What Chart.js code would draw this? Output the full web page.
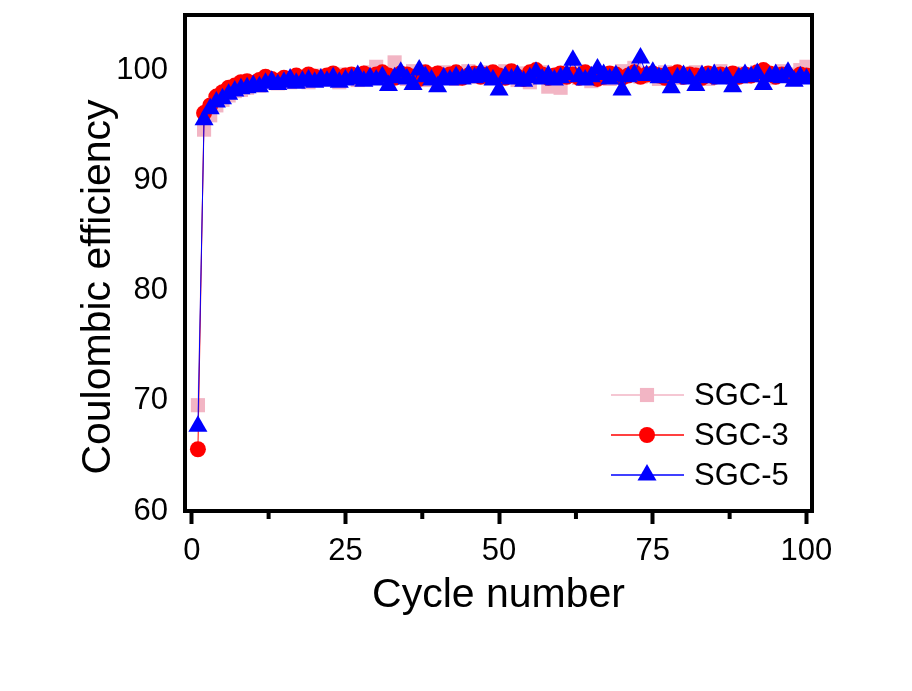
<!DOCTYPE html>
<html>
<head>
<meta charset="utf-8">
<title>Coulombic efficiency</title>
<script src="https://cdn.jsdelivr.net/npm/chart.js@4.4.1/dist/chart.umd.min.js"></script>
<style>
    html, body { margin: 0; padding: 0; background: #fff; }
    #graficoEficiencia { display: block; }
</style>
</head>
<body>
<canvas id="graficoEficiencia" width="912" height="691"></canvas>
<script>
// Numero de ciclo (1..100)
const ciclos = Array.from({ length: 100 }, (_, i) => i + 1);

// Eficiencia coulombica (%)
const sgc1 = [
    69.6, 94.6, 95.9, 96.8, 97.3, 97.7, 98.1, 98.2, 98.4, 98.7,
    98.6, 98.9, 99.0, 98.8, 99.1, 98.9, 99.2, 99.4, 98.9, 99.3,
    99.5, 99.2, 99.4, 98.9, 99.6, 99.3, 99.1, 99.5, 99.8, 100.3,
    99.4, 99.7, 100.7, 99.6, 99.2, 99.9, 99.4, 99.1, 99.6, 99.3,
    99.8, 99.5, 99.2, 99.7, 99.9, 99.4, 99.6, 99.8, 99.3, 99.5,
    99.9, 99.6, 99.1, 99.7, 98.9, 99.5, 99.8, 98.5, 99.4, 98.4,
    99.7, 99.8, 99.3, 99.6, 99.0, 99.5, 99.7, 99.2, 99.5, 99.9,
    99.6, 100.2, 99.4, 99.7, 99.5, 99.2, 99.8, 99.6, 99.3, 99.7,
    99.5, 99.8, 99.4, 99.2, 99.6, 99.9, 99.5, 99.3, 99.7, 99.4,
    99.6, 99.8, 99.5, 99.3, 99.7, 99.9, 99.6, 99.4, 100.0, 100.3
];
const sgc3 = [
    65.6, 96.1, 96.8, 97.6, 98.0, 98.4, 98.6, 98.9, 99.0, 98.8,
    99.1, 99.4, 99.2, 99.0, 99.3, 99.2, 99.5, 99.3, 99.6, 99.4,
    99.2, 99.5, 99.7, 99.3, 99.5, 99.6, 99.4, 99.7, 99.3, 99.6,
    99.8, 99.5, 99.3, 99.7, 99.6, 99.4, 99.2, 99.8, 99.5, 99.7,
    99.4, 99.6, 99.8, 99.3, 99.5, 99.7, 99.4, 99.6, 99.8, 99.5,
    99.3, 99.9, 99.4, 99.2, 99.8, 100.0, 99.6, 99.3, 99.5, 99.7,
    99.4, 99.6, 99.3, 99.8, 99.5, 99.2, 99.4, 99.7, 99.6, 99.3,
    99.5, 99.8, 99.4, 99.6, 99.7, 99.5, 99.3, 99.6, 99.8, 99.4,
    99.6, 99.5, 99.3, 99.7, 99.4, 99.6, 99.5, 99.7, 99.4, 99.6,
    99.5, 99.8, 100.0, 99.7, 99.4, 99.6, 99.5, 99.3, 99.6, 99.5
];
const sgc5 = [
    67.7, 95.5, 96.5, 97.1, 97.4, 97.8, 98.1, 98.3, 98.4, 98.6,
    98.5, 98.8, 99.0, 98.7, 98.9, 99.2, 98.8, 99.0, 99.1, 98.9,
    99.2, 99.0, 99.3, 98.9, 99.1, 99.2, 99.5, 99.0, 99.3, 99.1,
    99.4, 98.6, 99.3, 99.8, 99.2, 98.7, 100.0, 99.4, 99.1, 98.5,
    99.3, 99.1, 99.4, 99.2, 99.6, 99.3, 99.8, 99.4, 99.1, 98.2,
    99.4, 99.2, 99.5, 99.0, 99.3, 99.8, 99.2, 99.5, 99.1, 99.3,
    99.6, 100.9, 99.4, 99.1, 99.4, 100.1, 99.6, 99.2, 99.5, 98.2,
    99.4, 99.6, 101.1, 99.5, 99.8, 99.3, 99.6, 98.4, 99.3, 99.5,
    99.2, 98.6, 99.5, 99.3, 99.6, 99.2, 99.4, 98.5, 99.3, 99.6,
    99.4, 99.7, 98.7, 99.4, 99.6, 99.3, 99.8, 99.0, 99.4, 99.2
];

const nombres = ["SGC-1", "SGC-3", "SGC-5"];
const colores = ["#f2b5c4", "#ff0000", "#0000ff"];
const estilos = ["rect", "circle", "triangle"];
const radios = [10, 8, 11];

const xTicks = [0, 25, 50, 75, 100];
const xTicksMenores = [12.5, 37.5, 62.5, 87.5];
const yTicks = [60, 70, 80, 90, 100];

const fuente = "'Liberation Sans', Arial, sans-serif";

// marco, ticks menores, titulo Y y leyenda
const marcoPlugin = {
    id: "marco",
    afterDatasetsDraw(chart) {
        const { ctx, chartArea: a, scales } = chart;
        ctx.save();
        ctx.strokeStyle = "#000";
        ctx.lineWidth = 4;
        xTicksMenores.forEach(v => {
            const px = scales.x.getPixelForValue(v);
            ctx.beginPath();
            ctx.moveTo(px, a.bottom);
            ctx.lineTo(px, a.bottom + 8);
            ctx.stroke();
        });
        ctx.strokeRect(a.left, a.top, a.right - a.left, a.bottom - a.top);

        // titulo del eje Y
        ctx.save();
        ctx.translate(99, 287);
        ctx.rotate(-Math.PI / 2);
        ctx.fillStyle = "#000";
        ctx.font = "41px " + fuente;
        ctx.textAlign = "center";
        ctx.textBaseline = "middle";
        ctx.fillText("Coulombic efficiency", 0, 0);
        ctx.restore();

        // leyenda
        ctx.font = "31px " + fuente;
        ctx.textAlign = "left";
        ctx.textBaseline = "middle";
        nombres.forEach((nombre, i) => {
            const y = 395 + i * 40;
            ctx.strokeStyle = colores[i];
            ctx.lineWidth = 1.5;
            ctx.beginPath();
            ctx.moveTo(611, y);
            ctx.lineTo(684, y);
            ctx.stroke();
            ctx.fillStyle = colores[i];
            const r = radios[i];
            ctx.beginPath();
            if (estilos[i] === "rect") {
                const s = r * Math.SQRT1_2;
                ctx.rect(647 - s, y - s, 2 * s, 2 * s);
            } else if (estilos[i] === "circle") {
                ctx.arc(647, y, r, 0, Math.PI * 2);
            } else {
                for (let k = 0; k < 3; k++) {
                    const ang = -Math.PI / 2 + k * 2 * Math.PI / 3;
                    const px = 647 + r * Math.cos(ang);
                    const py = y + r * Math.sin(ang);
                    k === 0 ? ctx.moveTo(px, py) : ctx.lineTo(px, py);
                }
                ctx.closePath();
            }
            ctx.fill();
            ctx.fillStyle = "#000";
            ctx.fillText(nombre, 694, y + 1);
        });
        ctx.restore();
    }
};

const ctx = document.getElementById("graficoEficiencia").getContext("2d");
new Chart(ctx, {
    type: "line",
    data: {
        datasets: [sgc1, sgc3, sgc5].map((serie, i) => ({
            label: nombres[i],
            data: serie.map((v, j) => ({ x: ciclos[j], y: v })),
            borderColor: colores[i],
            backgroundColor: colores[i],
            borderWidth: 1,
            pointStyle: estilos[i],
            pointRadius: radios[i],
            pointBorderWidth: 0,
            pointBackgroundColor: colores[i],
            pointBorderColor: colores[i],
            tension: 0,
            order: 3 - i
        }))
    },
    options: {
        responsive: false,
        animation: false,
        layout: { padding: { top: 15, right: 100, left: 0, bottom: 0 } },
        plugins: {
            legend: { display: false },
            tooltip: { enabled: false }
        },
        scales: {
            x: {
                type: "linear",
                min: -1.1,
                max: 100.9,
                afterBuildTicks: s => { s.ticks = xTicks.map(v => ({ value: v })); },
                afterFit: s => { s.height = 180; s.paddingLeft = 0; s.paddingRight = 0; },
                border: { display: false },
                grid: {
                    drawOnChartArea: false,
                    tickLength: 13,
                    tickWidth: 4,
                    tickColor: "#000"
                },
                ticks: {
                    color: "#000",
                    padding: 9,
                    maxRotation: 0,
                    font: { family: fuente, size: 31 }
                },
                title: {
                    display: true,
                    text: "Cycle number",
                    color: "#000",
                    font: { family: fuente, size: 41 },
                    padding: { top: 0, bottom: 71 }
                }
            },
            y: {
                min: 60,
                max: 105,
                afterBuildTicks: s => { s.ticks = yTicks.map(v => ({ value: v })); },
                afterFit: s => { s.width = 185; s.paddingTop = 0; s.paddingBottom = 0; },
                border: { display: false },
                grid: { drawOnChartArea: false, drawTicks: false },
                ticks: {
                    color: "#000",
                    padding: 17,
                    font: { family: fuente, size: 31 }
                }
            }
        }
    },
    plugins: [marcoPlugin]
});
</script>
</body>
</html>
